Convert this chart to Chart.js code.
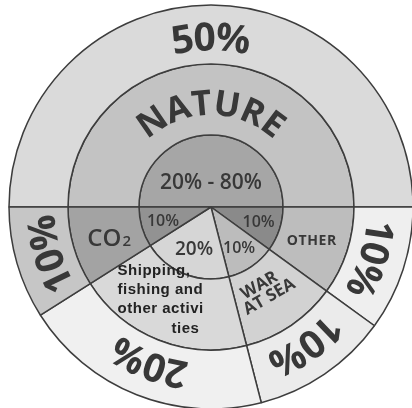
<!DOCTYPE html>
<html><head><meta charset="utf-8">
<script src="https://cdn.jsdelivr.net/npm/chart.js@4"></script>
<style>html,body{margin:0;padding:0;background:#fff;overflow:hidden}</style>
</head><body>
<canvas id="c" width="412" height="408"></canvas>
<script>
// ---- data ----
const categories = ['Nature', 'Other', 'War at sea', 'Shipping, fishing and other activities', 'CO2'];
const outerValues = [50, 10, 11, 20, 9];
const middleValues = [50, 10, 11, 20, 9];
const innerValues = [50, 10, 11, 20, 9];
const outerLabels = ['50%', '10%', '10%', '20%', '10%'];
const middleLabels = ['NATURE', 'OTHER', 'WAR\nAT SEA', 'Shipping,\nfishing and\nother activi\nties', 'CO|2'];
const innerLabels = ['20% - 80%', '10%', '10%', '20%', '10%'];

// ---- styles ----
const outerColors = ['#dadada', '#efefef', '#ebebeb', '#f0f0f0', '#c6c6c6'];
const middleColors = ['#c3c3c3', '#bdbdbd', '#d2d2d2', '#d9d9d9', '#a3a3a3'];
const innerColors = ['#a6a6a6', '#8a8a8a', '#bcbcbc', '#d6d6d6', '#929292'];
const TEXT = '#383838';
const FAM = "'Open Sans', sans-serif";

function arcText(ctx, text, cx, cy, rMid, midAng, font, spacing, capH) {
  ctx.font = font;
  const chars = [...text];
  const w = chars.map(c => ctx.measureText(c).width);
  const total = w.reduce((a, b) => a + b, 0) + spacing * (chars.length - 1);
  let a = midAng - (total / 2) / rMid;
  ctx.textAlign = 'center';
  ctx.textBaseline = 'alphabetic';
  chars.forEach((c, i) => {
    const ang = a + (w[i] / 2) / rMid;
    ctx.save();
    ctx.translate(cx + rMid * Math.cos(ang), cy + rMid * Math.sin(ang));
    ctx.rotate(ang + Math.PI / 2);
    ctx.fillText(c, 0, capH / 2);
    ctx.restore();
    a += (w[i] + spacing) / rMid;
  });
}

function mid(arc) { return (arc.startAngle + arc.endAngle) / 2; }
function pt(arc, r, dAng) {
  const m = mid(arc) + (dAng || 0);
  return { x: arc.x + r * Math.cos(m), y: arc.y + r * Math.sin(m) };
}

const labelPlugin = {
  id: 'labels',
  afterDatasetsDraw(chart) {
    const ctx = chart.ctx;
    ctx.save();
    ctx.fillStyle = TEXT;
    // outer ring: curved labels
    chart.getDatasetMeta(0).data.forEach((arc, j) => {
      const r = (arc.innerRadius + arc.outerRadius) / 2 - 2;
      arcText(ctx, outerLabels[j], arc.x, arc.y, r, mid(arc), `bold 39px ${FAM}`, 0, 28);
    });
    // middle ring
    const md = chart.getDatasetMeta(1).data;
    {
      const arc = md[0];
      const r = (arc.innerRadius + arc.outerRadius) / 2 - 3;
      arcText(ctx, middleLabels[0], arc.x, arc.y, r, mid(arc), `bold 35px ${FAM}`, 2.5, 25);
    }
    // OTHER
    {
      const p = pt(md[1], 106);
      ctx.font = `bold 14px ${FAM}`;
      ctx.letterSpacing = '0.6px';
      ctx.textAlign = 'center'; ctx.textBaseline = 'middle';
      ctx.fillText(middleLabels[1], p.x, p.y + 1);
      ctx.letterSpacing = '0px';
    }
    // WAR AT SEA
    {
      const p = pt(md[2], 104);
      ctx.save();
      ctx.translate(p.x - 4, p.y - 3);
      ctx.rotate(-30 * Math.PI / 180);
      ctx.font = `bold 17px ${FAM}`;
      ctx.textAlign = 'center'; ctx.textBaseline = 'middle';
      const lines = middleLabels[2].split('\n');
      ctx.fillText(lines[0], -3, -7);
      ctx.fillText(lines[1], 0, 8);
      ctx.restore();
    }
    // Shipping block
    {
      const p = pt(md[3], 107);
      ctx.font = `bold 15px 'Liberation Sans', Arial, sans-serif`;
      ctx.letterSpacing = '0.5px';
      ctx.fillStyle = '#222';
      ctx.textAlign = 'left'; ctx.textBaseline = 'alphabetic';
      const lines = middleLabels[3].split('\n');
      const offs = [[-54, -31], [-54, -12], [-54, 7], [0, 27]];
      lines.forEach((l, i) => ctx.fillText(l, p.x + offs[i][0], p.y + offs[i][1]));
      ctx.letterSpacing = '0px';
      ctx.fillStyle = TEXT;
    }
    // CO2
    {
      const p = pt(md[4], 106);
      const [main, sub] = middleLabels[4].split('|');
      ctx.font = `600 24px ${FAM}`;
      const w1 = ctx.measureText(main).width;
      ctx.font = `600 15px ${FAM}`;
      const w2 = ctx.measureText(sub).width;
      const x0 = p.x - (w1 + w2 + 1) / 2;
      ctx.textAlign = 'left'; ctx.textBaseline = 'alphabetic';
      ctx.font = `600 24px ${FAM}`;
      ctx.fillText(main, x0, p.y + 9);
      ctx.font = `600 15px ${FAM}`;
      ctx.fillText(sub, x0 + w1 + 1, p.y + 9);
    }
    // inner ring
    const idt = chart.getDatasetMeta(2).data;
    ctx.textAlign = 'center'; ctx.textBaseline = 'middle';
    idt.forEach((arc, j) => {
      let p, f;
      if (j === 0) { p = pt(arc, 24); f = `600 21px ${FAM}`; }
      else if (j === 3) { p = pt(arc, 46); f = `600 19px ${FAM}`; }
      else { p = pt(arc, 50); f = `600 16px ${FAM}`; }
      ctx.font = f;
      ctx.fillText(innerLabels[j], p.x, p.y);
    });
    ctx.restore();
  }
};

new Chart(document.getElementById('c'), {
  type: 'pie',
  data: {
    labels: categories,
    datasets: [
      { data: outerValues, backgroundColor: outerColors, weight: 59 },
      { data: middleValues, backgroundColor: middleColors, weight: 71 },
      { data: innerValues, backgroundColor: innerColors, weight: 72 }
    ]
  },
  options: {
    responsive: false,
    animation: false,
    events: [],
    rotation: -90,
    radius: 202,
    layout: { padding: { left: 10, top: 6, right: 0, bottom: 0 } },
    elements: { arc: { borderColor: '#3d3d3d', borderWidth: 1.5 } },
    plugins: { legend: { display: false }, tooltip: { enabled: false } }
  },
  plugins: [labelPlugin]
});
</script>
</body></html>
